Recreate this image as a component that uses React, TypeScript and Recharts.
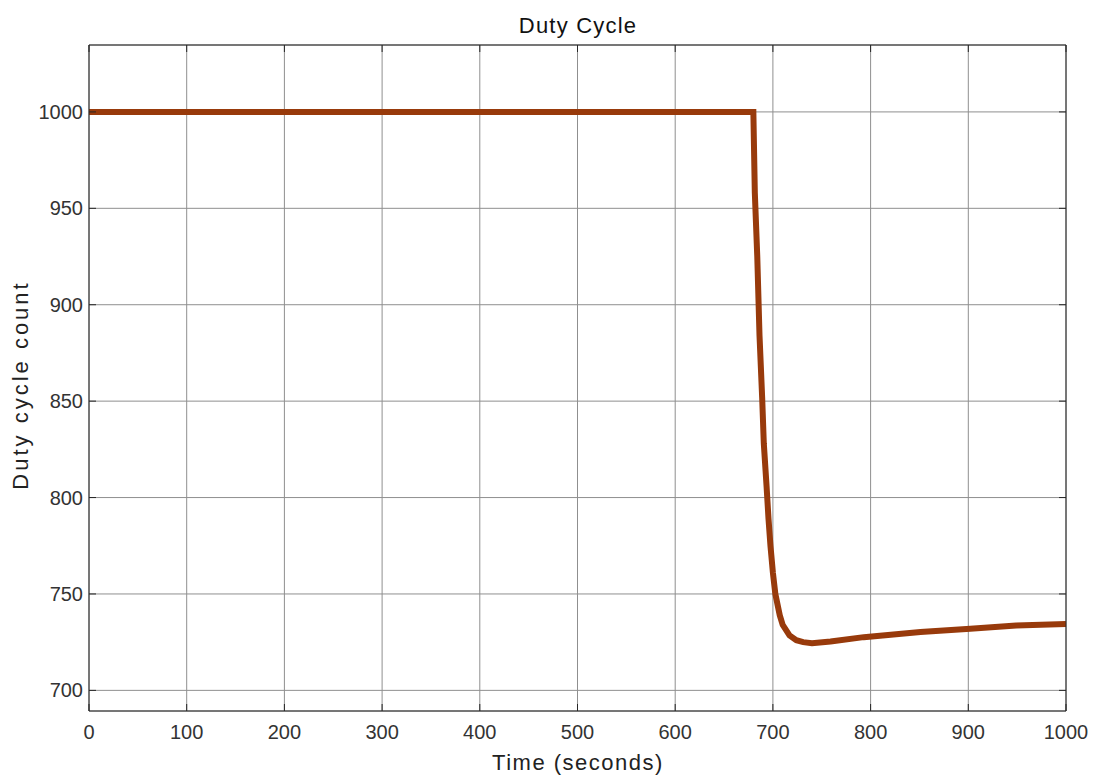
import React from 'react';
import { LineChart, Line, XAxis, YAxis, CartesianGrid } from 'recharts';

// time in seconds and the duty cycle count
const timeSec = [0, 680, 681.5, 684, 686.3, 689, 690.7, 693.5, 695.5, 697.5, 700, 702.5, 707, 710, 717, 724, 731, 740, 759, 793, 851, 902, 949, 1000];
const dutyCount = [1000, 1000, 958, 925, 884, 852, 828, 806, 789, 775, 761, 750, 739, 734, 728.5, 726, 725, 724.5, 725.3, 727.6, 730.3, 731.9, 733.6, 734.4];

const xTicks = [0, 100, 200, 300, 400, 500, 600, 700, 800, 900, 1000];
const yTicks = [700, 750, 800, 850, 900, 950, 1000];

const data = timeSec.map((t, i) => ({ t, v: dutyCount[i] }));

const W = 1100;
const H = 781;
// axes are 1px thick, margins are reduced by that amount
const margin = { top: 44, right: 33, bottom: 69, left: 88 };
const FONT = '"Liberation Sans", Arial, sans-serif';
const BOX = '#262626';
const TICK_LEN = 7;

const BottomTick = (props: any) => {
  const { x, y, payload } = props;
  return (
    <g>
      <line x1={x} y1={y} x2={x} y2={y - TICK_LEN} stroke={BOX} strokeWidth={1} />
      <text x={x} y={y + 28} textAnchor="middle" fontFamily={FONT} fontSize={20} fill="#333">
        {payload.value}
      </text>
    </g>
  );
};

const TopTick = (props: any) => {
  const { x, y } = props;
  return <line x1={x} y1={y} x2={x} y2={y + TICK_LEN} stroke={BOX} strokeWidth={1} />;
};

const LeftTick = (props: any) => {
  const { x, y, payload } = props;
  return (
    <g>
      <line x1={x} y1={y} x2={x + TICK_LEN} y2={y} stroke={BOX} strokeWidth={1} />
      <text x={x - 6} y={y + 7} textAnchor="end" fontFamily={FONT} fontSize={20} fill="#333">
        {payload.value}
      </text>
    </g>
  );
};

const RightTick = (props: any) => {
  const { x, y } = props;
  return <line x1={x} y1={y} x2={x - TICK_LEN} y2={y} stroke={BOX} strokeWidth={1} />;
};

export default function App() {
  return (
    <div style={{ position: 'absolute', left: 0, top: 0, width: W, height: H, background: '#fff' }}>
      <LineChart width={W} height={H} data={data} margin={margin}>
        <CartesianGrid stroke="#8f8f8f" strokeWidth={1} />
        <XAxis
          dataKey="t"
          type="number"
          domain={[0, 1000]}
          ticks={xTicks}
          height={1}
          tickSize={0}
          tickMargin={0}
          tickLine={false}
          tick={<BottomTick />}
          axisLine={{ stroke: BOX, strokeWidth: 1 }}
          allowDataOverflow
        />
        <XAxis
          xAxisId="top"
          orientation="top"
          dataKey="t"
          type="number"
          domain={[0, 1000]}
          ticks={xTicks}
          height={1}
          tickSize={0}
          tickMargin={0}
          tickLine={false}
          tick={<TopTick />}
          axisLine={{ stroke: BOX, strokeWidth: 1 }}
          allowDataOverflow
        />
        <YAxis
          type="number"
          domain={[689.3, 1034.7]}
          ticks={yTicks}
          width={1}
          tickSize={0}
          tickMargin={0}
          tickLine={false}
          tick={<LeftTick />}
          axisLine={{ stroke: BOX, strokeWidth: 1 }}
          allowDataOverflow
        />
        <YAxis
          yAxisId="right"
          orientation="right"
          type="number"
          domain={[689.3, 1034.7]}
          ticks={yTicks}
          width={1}
          tickSize={0}
          tickMargin={0}
          tickLine={false}
          tick={<RightTick />}
          axisLine={{ stroke: BOX, strokeWidth: 1 }}
          allowDataOverflow
        />
        <Line
          type="linear"
          dataKey="v"
          stroke="#983a0b"
          strokeWidth={6}
          dot={false}
          isAnimationActive={false}
        />
      </LineChart>
      <svg width={W} height={H} style={{ position: 'absolute', left: 0, top: 0, pointerEvents: 'none' }}>
        <text x={578} y={33} textAnchor="middle" fontFamily={FONT} fontSize={22} letterSpacing={1.2} fill="#111">
          Duty Cycle
        </text>
        <text x={578} y={770} textAnchor="middle" fontFamily={FONT} fontSize={22} letterSpacing={1.5} fill="#222">
          Time (seconds)
        </text>
        <text
          x={0}
          y={0}
          transform="translate(28,385) rotate(-90)"
          textAnchor="middle"
          fontFamily={FONT}
          fontSize={22}
          letterSpacing={3}
          fill="#222"
        >
          Duty cycle count
        </text>
      </svg>
    </div>
  );
}
